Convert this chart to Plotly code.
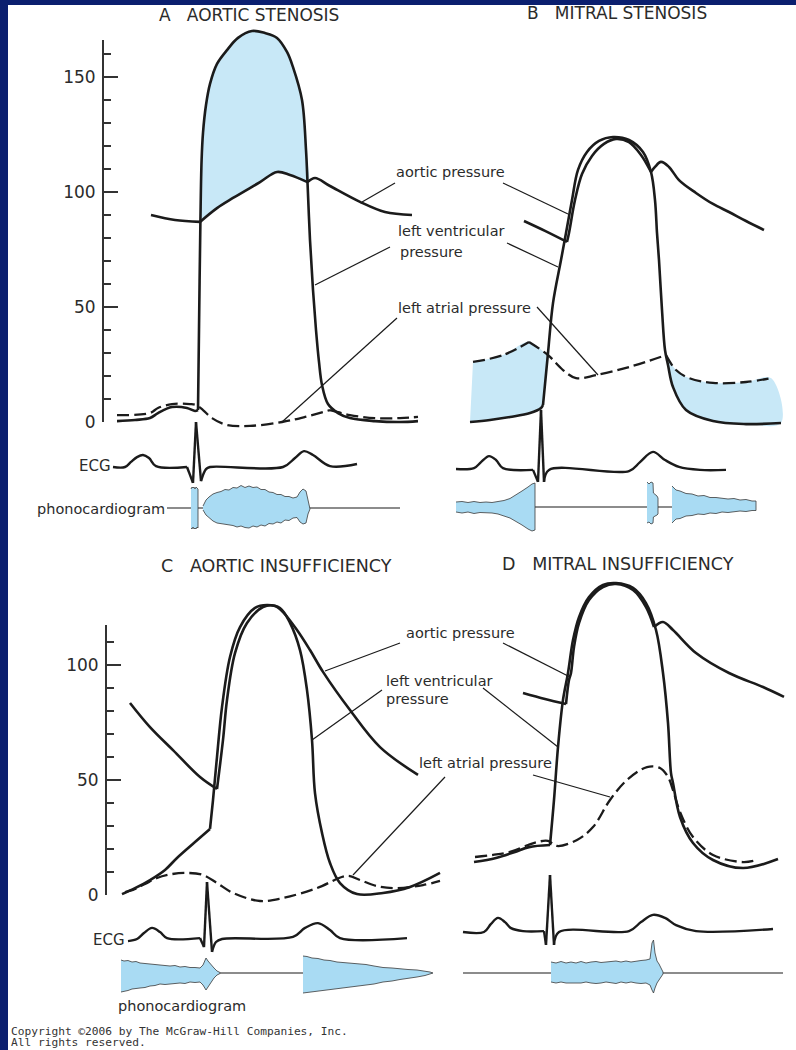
import plotly.graph_objects as go

# ------------------------------------------------------------------
# DATA  (time in ms, pressure in mmHg, ECG in mV, phono in arbitrary units)
# ------------------------------------------------------------------
# ---- A  AORTIC STENOSIS ----
A_LV_t = [32.5, 77.5, 115, 135, 170, 207.5, 227.5, 235, 237.5, 241, 244, 247.5, 255, 265, 282.5, 307.5, 335, 370,
          402.5, 432.5, 457.5, 472.5, 495, 505, 508.75, 515, 522.5, 530, 537.5, 545, 560, 585, 615, 677.5, 740, 785]
A_LV_p = [0.4, 0.9, 1.7, 3.9, 6.5, 6.1, 4.8, 5.2, 40, 87, 113.9, 125.7, 137.8, 147, 155.7, 161.7, 167, 170,
          169.1, 167, 160.9, 154.3, 140, 118.3, 104.3, 79.1, 57.4, 40, 26.1, 16.1, 7.8, 3.9, 1.7, 0.4, 0, 0.4]
A_AO_t = [117.5, 177.5, 240, 282.5, 322.5, 390, 432.5, 465, 508.75, 527.5, 565, 640, 702.5, 770]
A_AO_p = [90, 87.8, 87, 93, 97.4, 104.3, 108.7, 107.4, 104.3, 106.1, 102.6, 95.7, 91.3, 90]
A_LA_t = [32.5, 115, 135, 170, 215, 230, 247.5, 270, 307.5, 365, 445, 502.5, 565, 585, 615, 677.5, 740, 785]
A_LA_p = [3.0, 3.9, 6.1, 7.8, 7.8, 7.4, 5.2, 1.7, -1.3, -1.7, 0, 2.2, 5.2, 4.3, 3.0, 1.7, 1.7, 2.2]
A_ECG_t = [22.5, 52.5, 67.5, 82.5, 97.5, 112.5, 130, 207.5, 222.5, 230, 242.5, 255, 265, 447.5, 477.5, 500, 522.5, 565, 632.5]
A_ECG_mv = [0, 0, 0.17, 0.33, 0.4, 0.3, 0.03, 0, -0.53, 1.5, -0.47, -0.07, 0, 0, 0.3, 0.53, 0.4, 0.03, 0.1]
A_SND_base = [157.5, 740]
A_S1_t = [217.5, 220, 222.5, 225, 227.5, 230, 232.5, 235]
A_S1_up = [1.9, 2.1, 2.0, 2.1, 1.9, 2.1, 2.0, 1.9]
A_S1_lo = [2.0, 2.1, 1.9, 2.1, 2.0, 2.1, 1.9, 2.0]
A_MUR_t = [247.5, 255, 262.5, 272.5, 282.5, 292.5, 302.5, 312.5, 322.5, 332.5, 342.5, 352.5, 362.5, 372.5, 382.5,
           392.5, 402.5, 412.5, 422.5, 432.5, 442.5, 452.5, 462.5, 472.5, 482.5, 490, 497.5, 505, 510, 515]
A_MUR_up = [0.2, 0.8, 1.1, 1.4, 1.55, 1.65, 1.85, 1.8, 2.05, 2.0, 2.25, 2.05, 2.2, 2.05, 2.1,
            1.85, 1.85, 1.6, 1.55, 1.35, 1.35, 1.15, 1.15, 1.0, 1.1, 1.6, 1.9, 1.7, 0.8, 0.1]
A_MUR_lo = [0.2, 0.7, 1.0, 1.3, 1.5, 1.55, 1.65, 1.7, 1.75, 1.9, 1.8, 1.95, 2.0, 1.8, 1.9,
            1.7, 1.8, 1.55, 1.6, 1.4, 1.5, 1.2, 1.25, 1.0, 0.95, 1.4, 1.6, 1.5, 0.6, 0.1]

# ---- B  MITRAL STENOSIS ----
B_LV_t = [50, 100, 150, 200, 227.5, 232.5, 245, 257.5, 277.5, 290, 305, 320, 342.5, 372.5, 407.5, 447.5, 482.5,
          502.5, 512.5, 517.5, 522.5, 530, 537.5, 545, 557.5, 590, 657.5, 740, 827.5]
B_LV_p = [2.6, 3.5, 4.8, 6.5, 8.7, 10, 32.6, 54.3, 73.0, 84.8, 99.1, 112.2, 120, 124.8, 126.5, 125.2, 120,
          111.3, 99.1, 84.8, 73.0, 51.3, 33.9, 27.4, 17.8, 7.8, 3.0, 1.7, 2.2]
B_AO_t = [185, 237.5, 292.5, 297.5, 312.5, 330, 355, 385, 415, 447.5, 477.5, 502.5, 512.5, 527.5, 547.5, 572.5,
          615, 657.5, 697.5, 740, 785]
B_AO_p = [90, 85.7, 80.9, 84.8, 99.1, 110.4, 118.3, 123.5, 125.7, 124.3, 118.7, 111.3, 113.5, 115.7, 113.5, 107.8,
          102.2, 97.4, 93.9, 90, 86.1]
B_LA_t = [57.5, 132.5, 197.5, 245, 282.5, 315, 365, 447.5, 540, 565, 597.5, 657.5, 740, 802.5]
B_LA_p = [28.7, 31.7, 37.4, 31.7, 25.2, 21.7, 23.0, 26.5, 31.7, 25.2, 21.7, 19.6, 20, 21.7]
B_ECG_t = [15, 60, 77.5, 97.5, 115, 132.5, 207.5, 220, 227.5, 235, 247.5, 447.5, 475, 507.5, 537.5, 572.5, 625, 690]
B_ECG_mv = [0, 0.03, 0.23, 0.43, 0.3, 0.03, -0.03, -0.43, 1.97, -0.43, -0.03, -0.07, 0.23, 0.57, 0.3, 0.07, -0.03, -0.03]
B_SND_base = [212.5, 555]
B_PSM_t = [15, 30, 45, 60, 75, 90, 105, 120, 135, 150, 165, 180, 195, 205, 212.5]
B_PSM_up = [0.5, 0.55, 0.45, 0.55, 0.45, 0.5, 0.45, 0.55, 0.65, 0.85, 1.2, 1.6, 2.0, 2.3, 2.4]
B_PSM_lo = [0.5, 0.6, 0.5, 0.65, 0.55, 0.6, 0.6, 0.7, 0.9, 1.1, 1.45, 1.8, 2.2, 2.4, 2.3]
B_OS_t = [492.5, 497.5, 502.5, 507.5, 508.5, 512.5, 517.5, 520]
B_OS_up = [2.5, 2.3, 2.5, 2.4, 1.4, 1.3, 1.1, 0.9]
B_OS_lo = [1.6, 1.5, 1.7, 1.6, 1.0, 0.9, 0.8, 0.7]
B_DM_t = [555, 565, 575, 590, 605, 620, 635, 650, 665, 680, 695, 710, 725, 740, 755, 765]
B_DM_up = [2.1, 1.7, 1.6, 1.35, 1.3, 1.1, 1.15, 0.95, 0.95, 0.85, 0.8, 0.85, 0.7, 0.75, 0.6, 0.6]
B_DM_lo = [1.6, 1.2, 1.15, 0.9, 0.85, 0.7, 0.75, 0.6, 0.65, 0.5, 0.55, 0.45, 0.4, 0.45, 0.35, 0.35]

# ---- C  AORTIC INSUFFICIENCY ----
C_LV_t = [37.5, 70, 107.5, 145, 175, 220, 257.5, 265, 275, 287.5, 307.5, 332.5, 370, 400, 432.5, 457.5, 482.5,
          500, 512.5, 520, 537.5, 557.5, 582.5, 625, 690, 757.5, 832.5]
C_LV_p = [0.4, 3.0, 6.5, 10.9, 16.1, 23.0, 28.7, 41.3, 60, 81.7, 103.5, 116.5, 124.8, 126.1, 124.8, 118.3, 106.5,
          89.1, 67.4, 44.3, 27.0, 13.9, 5.2, 0.4, 0.9, 3.5, 9.6]
C_AO_t = [57.5, 107.5, 165, 232.5, 275, 290, 300, 320, 350, 390, 420, 440, 475, 507.5, 540, 607.5, 682.5, 777.5]
C_AO_p = [83.5, 73.0, 63.0, 51.3, 46.1, 67.4, 84.8, 105.2, 118.3, 125.2, 125.7, 123.0, 115.2, 106.5, 97.0, 80.4, 64.3, 52.2]
C_LA_t = [45, 65, 95, 125, 162.5, 200, 240, 275, 315, 382.5, 440, 525, 600, 632.5, 675, 725, 790, 832.5]
C_LA_p = [1.3, 2.2, 4.8, 7.4, 9.1, 9.6, 8.7, 5.2, 0.9, -2.6, -1.3, 3.0, 8.3, 6.5, 3.9, 3.0, 4.3, 6.1]
C_ECG_t = [52.5, 75, 92.5, 112.5, 132.5, 150, 232.5, 242.5, 250, 262.5, 272.5, 287.5, 465, 495, 527.5, 557.5, 582.5, 750]
C_ECG_mv = [-0.07, 0, 0.2, 0.37, 0.23, 0.03, 0.03, -0.27, 1.9, -0.43, -0.1, 0, 0.07, 0.37, 0.53, 0.3, 0.03, 0.03]
C_SND_base = [282.5, 490]
C_DM1_t = [35, 42.5, 52.5, 62.5, 72.5, 82.5, 95, 107.5, 120, 132.5, 145, 157.5, 170, 182.5, 195, 207.5, 220,
           232.5, 240, 247.5, 252.5, 260, 267.5, 275, 282.5]
C_DM1_up = [1.3, 1.2, 1.25, 1.1, 1.15, 1.0, 0.95, 0.9, 0.85, 0.8, 0.75, 0.7, 0.75, 0.6, 0.65, 0.55, 0.55,
            0.5, 0.8, 1.5, 1.2, 0.8, 0.5, 0.2, 0.05]
C_DM1_lo = [1.9, 1.8, 1.75, 1.6, 1.55, 1.5, 1.45, 1.3, 1.25, 1.1, 1.15, 1.05, 1.05, 1.0, 1.05, 0.9, 0.95,
            0.9, 1.2, 1.7, 1.4, 0.9, 0.5, 0.2, 0.05]
C_DM2_t = [490, 500, 512.5, 527.5, 542.5, 557.5, 575, 592.5, 607.5, 627.5, 647.5, 667.5, 690, 712.5, 732.5,
           752.5, 775, 795, 807.5, 815]
C_DM2_up = [1.7, 1.65, 1.5, 1.45, 1.3, 1.25, 1.1, 1.05, 1.0, 0.9, 0.85, 0.7, 0.55, 0.5, 0.4, 0.35, 0.3, 0.2, 0.1, 0.0]
C_DM2_lo = [2.0, 1.9, 1.85, 1.75, 1.7, 1.6, 1.55, 1.45, 1.4, 1.3, 1.2, 1.1, 0.9, 0.8, 0.65, 0.5, 0.4, 0.25, 0.1, 0.0]

# ---- D  MITRAL INSUFFICIENCY ----
D_LV_t = [60, 115, 162.5, 197.5, 250, 260, 270, 282.5, 295, 307.5, 322.5, 347.5, 382.5, 415, 457.5, 490, 515,
          532.5, 545, 552.5, 557.5, 575, 607.5, 657.5, 732.5, 820]
D_LV_p = [7.8, 9.6, 12.2, 14.3, 15.2, 34.8, 57.8, 78.3, 90, 104.3, 114.3, 123, 128.3, 129.1, 127, 120.4, 108.7,
          90, 68.3, 46.5, 42.2, 27.4, 16.1, 8.7, 5.2, 9.1]
D_AO_t = [182.5, 237.5, 290, 297.5, 302.5, 310, 322.5, 347.5, 382.5, 415, 457.5, 490, 510, 532.5, 557.5, 615, 697.5, 782.5, 835]
D_AO_p = [81.3, 78.7, 76.5, 87, 90, 101.3, 111.7, 121.7, 127.4, 128.7, 126.1, 118.7, 110, 112.2, 108.7, 98.7, 90, 83.9, 79.6]
D_LA_t = [62.5, 107.5, 150, 195, 217.5, 245, 267.5, 317.5, 357.5, 400, 442.5, 492.5, 525, 545, 557.5, 575, 607.5,
          657.5, 732.5, 767.5]
D_LA_p = [10, 10.9, 12.2, 15.2, 16.5, 17, 14.8, 17.4, 23.0, 34.8, 43.5, 49.1, 48.7, 44.8, 39.1, 29.6, 18.7,
          10.9, 7.8, 8.7]
D_ECG_t = [32.5, 85, 102.5, 120, 137.5, 152.5, 182.5, 235, 240, 250, 260, 272.5, 447.5, 477.5, 507.5, 537.5, 565, 615, 807.5]
D_ECG_mv = [0, 0, 0.27, 0.47, 0.33, 0.13, 0.03, 0.03, -0.43, 1.9, -0.43, 0, 0.03, 0.33, 0.57, 0.47, 0.23, 0.03, 0.1]
D_SND_base = [32.5, 832.5]
D_SM_t = [252.5, 265, 277.5, 290, 302.5, 315, 327.5, 340, 352.5, 365, 377.5, 390, 402.5, 415, 427.5, 440, 452.5,
          465, 477.5, 490, 500, 505, 508.75, 512.5, 517.5, 522.5, 527.5, 532.5]
D_SM_up = [1.1, 1.0, 1.15, 1.0, 1.1, 1.0, 1.15, 1.0, 1.1, 1.15, 1.05, 1.1, 1.15, 1.2, 1.1, 1.2, 1.1,
           1.2, 1.25, 1.3, 1.4, 3.0, 3.3, 2.0, 1.2, 0.9, 0.5, 0.1]
D_SM_lo = [0.9, 1.0, 0.9, 1.0, 0.95, 1.0, 1.0, 0.9, 1.0, 1.05, 1.0, 0.9, 1.0, 1.05, 0.9, 1.0, 0.9,
           1.0, 1.05, 1.0, 1.2, 1.7, 2.0, 1.5, 1.0, 0.7, 0.4, 0.1]

# ------------------------------------------------------------------
# STYLE / LAYOUT
# ------------------------------------------------------------------
W, H = 796, 1050
NAVY = "#0b1f6f"
INK = "#1b1b1b"
AXC = "#333333"
TXT = "#2b2b2b"
FILL_P = "#c8e8f7"
FILL_S = "#a9dbf3"
FONT = "DejaVu Sans"
MS_PER_PX, PX_PER_MMHG, PX_PER_MV, PX_PER_AU = 2.5, 2.3, 30.0, 10.0

GEOM = {
    "A": dict(x="x", yp="y", ye="y3", ys="y4", xl=104, xr=430, x0=104, p0=422, pt=25, pb=432,
              e0=467, et=412, eb=492, s0=508, st=478, sb=540),
    "B": dict(x="x2", yp="y5", ye="y6", ys="y7", xl=440, xr=792, x0=450, p0=428, pt=25, pb=436,
              e0=469, et=400, eb=492, s0=507, st=474, sb=540),
    "C": dict(x="x3", yp="y8", ye="y10", ys="y11", xl=107, xr=448, x0=107, p0=895, pt=590, pb=906,
              e0=939, et=872, eb=962, s0=973, st=945, sb=1000),
    "D": dict(x="x4", yp="y12", ye="y13", ys="y14", xl=455, xr=792, x0=450, p0=880, pt=570, pb=885,
              e0=932, et=862, eb=955, s0=973, st=930, sb=1000),
}
RULERS = {"A": ("y2", 40), "C": ("y9", 625)}


def lkey(a):
    return a[0] + "axis" + a[1:]


def ylay(top, bot, zero, scale, anchor):
    return dict(domain=[1 - bot / H, 1 - top / H], range=[(zero - bot) / scale, (zero - top) / scale],
                anchor=anchor, visible=False, fixedrange=True, automargin=False)


fig = go.Figure()
lay = {}
for k, g in GEOM.items():
    lay[lkey(g["x"])] = dict(domain=[g["xl"] / W, g["xr"] / W],
                             range=[(g["xl"] - g["x0"]) * MS_PER_PX, (g["xr"] - g["x0"]) * MS_PER_PX],
                             anchor=g["yp"], visible=False, fixedrange=True, automargin=False)
    lay[lkey(g["yp"])] = ylay(g["pt"], g["pb"], g["p0"], PX_PER_MMHG, g["x"])
    lay[lkey(g["ye"])] = ylay(g["et"], g["eb"], g["e0"], PX_PER_MV, g["x"])
    lay[lkey(g["ys"])] = ylay(g["st"], g["sb"], g["s0"], PX_PER_AU, g["x"])
for k, (ya, top) in RULERS.items():
    g = GEOM[k]
    d = ylay(top, g["p0"], g["p0"], PX_PER_MMHG, g["x"])
    d.update(visible=True, range=[-0.05, (g["p0"] - top) / PX_PER_MMHG], showline=True, linecolor=AXC,
             linewidth=2, ticks="inside", ticklen=14, tickwidth=2, tickcolor=AXC, tickmode="linear",
             tick0=0, dtick=50, showticklabels=True, tickfont=dict(family=FONT, size=17, color=TXT),
             ticklabelstandoff=3, showgrid=False, zeroline=False,
             minor=dict(ticks="inside", ticklen=7, tickwidth=1.6, tickcolor=AXC, tick0=0, dtick=10))
    lay[lkey(ya)] = d
    fig.add_trace(go.Scatter(x=[300], y=[50], xaxis=g["x"], yaxis=ya, mode="markers",
                             marker=dict(opacity=0), hoverinfo="skip", showlegend=False))


def curve(t, v, xa, ya, corners=(), dash=None, width=2.6, color=INK):
    idx = [0] + [t.index(c) for c in corners] + [len(t) - 1]
    for a, b in zip(idx[:-1], idx[1:]):
        fig.add_trace(go.Scatter(x=t[a:b + 1], y=v[a:b + 1], xaxis=xa, yaxis=ya, mode="lines",
                                 line=dict(color=color, width=width, dash=dash, shape="spline", smoothing=1.0),
                                 hoverinfo="skip", showlegend=False))


def pick(t, v, lo, hi):
    pts = [(a, b) for a, b in zip(t, v) if lo <= a <= hi]
    return [p[0] for p in pts], [p[1] for p in pts]


def pfill(x, y, xa, ya):
    fig.add_trace(go.Scatter(x=x, y=y, xaxis=xa, yaxis=ya, fill="toself", fillcolor=FILL_P, mode="lines",
                             line=dict(width=0, shape="spline"), hoverinfo="skip", showlegend=False))


def sound(t, up, lo, xa, ya):
    xs = list(t) + list(t)[::-1]
    ys = list(up) + [-v for v in lo][::-1]
    fig.add_trace(go.Scatter(x=xs, y=ys, xaxis=xa, yaxis=ya, fill="toself", fillcolor=FILL_S, mode="lines",
                             line=dict(color="#3a3a3a", width=0.8), hoverinfo="skip", showlegend=False))


def base(tr, xa, ya):
    fig.add_trace(go.Scatter(x=tr, y=[0, 0], xaxis=xa, yaxis=ya, mode="lines",
                             line=dict(color=INK, width=1.2), hoverinfo="skip", showlegend=False))


DASH = "12px,5px"

# ---- A ----
g = GEOM["A"]
lt, lv = pick(A_LV_t, A_LV_p, 241, 508.75)
at, av = pick(A_AO_t, A_AO_p, 240, 508)
pfill(lt + at[::-1], lv + av[::-1], g["x"], g["yp"])
base(A_SND_base, g["x"], g["ys"])
sound(A_S1_t, A_S1_up, A_S1_lo, g["x"], g["ys"])
sound(A_MUR_t, A_MUR_up, A_MUR_lo, g["x"], g["ys"])
curve(A_LA_t, A_LA_p, g["x"], g["yp"], corners=[565], dash=DASH, width=2.3)
curve(A_LV_t, A_LV_p, g["x"], g["yp"], corners=[235])
curve(A_AO_t, A_AO_p, g["x"], g["yp"], corners=[240, 508.75])
curve(A_ECG_t, A_ECG_mv, g["x"], g["ye"], corners=[207.5, 222.5, 230, 242.5], width=2.4)

# ---- B ----
g = GEOM["B"]
at, av = pick(B_LA_t, B_LA_p, 0, 245)
lt, lv = pick(B_LV_t, B_LV_p, 0, 245)
pfill(at + lt[::-1], av + lv[::-1], g["x"], g["yp"])
at, av = pick(B_LA_t, B_LA_p, 540, 900)
lt, lv = pick(B_LV_t, B_LV_p, 537.5, 900)
pfill(at + lt[::-1], av + lv[::-1], g["x"], g["yp"])
base(B_SND_base, g["x"], g["ys"])
sound(B_PSM_t, B_PSM_up, B_PSM_lo, g["x"], g["ys"])
sound(B_OS_t, B_OS_up, B_OS_lo, g["x"], g["ys"])
sound(B_DM_t, B_DM_up, B_DM_lo, g["x"], g["ys"])
curve(B_LA_t, B_LA_p, g["x"], g["yp"], corners=[197.5, 540], dash=DASH, width=2.3)
curve(B_LV_t, B_LV_p, g["x"], g["yp"], corners=[232.5])
curve(B_AO_t, B_AO_p, g["x"], g["yp"], corners=[292.5, 502.5])
curve(B_ECG_t, B_ECG_mv, g["x"], g["ye"], corners=[207.5, 220, 227.5, 235], width=2.4)

# ---- C ----
g = GEOM["C"]
base(C_SND_base, g["x"], g["ys"])
sound(C_DM1_t, C_DM1_up, C_DM1_lo, g["x"], g["ys"])
sound(C_DM2_t, C_DM2_up, C_DM2_lo, g["x"], g["ys"])
curve(C_LA_t, C_LA_p, g["x"], g["yp"], dash=DASH, width=2.3)
curve(C_LV_t, C_LV_p, g["x"], g["yp"], corners=[257.5])
curve(C_AO_t, C_AO_p, g["x"], g["yp"], corners=[275])
curve(C_ECG_t, C_ECG_mv, g["x"], g["ye"], corners=[232.5, 242.5, 250, 262.5], width=2.4)

# ---- D ----
g = GEOM["D"]
base(D_SND_base, g["x"], g["ys"])
sound(D_SM_t, D_SM_up, D_SM_lo, g["x"], g["ys"])
curve(D_LA_t, D_LA_p, g["x"], g["yp"], dash=DASH, width=2.3)
curve(D_LV_t, D_LV_p, g["x"], g["yp"], corners=[250])
curve(D_AO_t, D_AO_p, g["x"], g["yp"], corners=[290, 510])
curve(D_ECG_t, D_ECG_mv, g["x"], g["ye"], corners=[235, 240, 250, 260], width=2.4)


# ---- text & leader lines (paper positions, pixels) ----
def label(text, x, y, size=14.5, xanchor="left", family=FONT, color=TXT):
    fig.add_annotation(text=text, x=x / W, y=1 - y / H, xref="paper", yref="paper", xanchor=xanchor,
                       yanchor="middle", showarrow=False, borderpad=0,
                       font=dict(family=family, size=size, color=color))


def leader(x0, y0, x1, y1):
    fig.add_shape(type="line", xref="paper", yref="paper", x0=x0 / W, y0=1 - y0 / H, x1=x1 / W, y1=1 - y1 / H,
                  line=dict(color=INK, width=1.2))


NB = "\u00a0\u00a0\u00a0"
label("A" + NB + "AORTIC STENOSIS", 249, 15, size=17, xanchor="center")
label("B" + NB + "MITRAL STENOSIS", 617, 13, size=17, xanchor="center")
label("C" + NB + "AORTIC INSUFFICIENCY", 276, 566, size=17.5, xanchor="center")
label("D" + NB + "MITRAL INSUFFICIENCY", 618, 564, size=17.5, xanchor="center")

label("aortic pressure", 395, 172)
label("left ventricular", 397, 231)
label("pressure", 399, 252)
label("left atrial pressure", 397, 308)
for seg in [(395, 183, 362, 202), (503, 183, 568, 214), (390, 247, 315, 285), (507, 243, 558, 267),
            (397, 318, 282, 422), (537, 307, 598, 375)]:
    leader(*seg)

label("aortic pressure", 405, 633)
label("left ventricular", 385, 681)
label("pressure", 385, 699)
label("left atrial pressure", 418, 763)
for seg in [(400, 643, 325, 671), (503, 643, 570, 677), (382, 690, 312, 740), (483, 688, 558, 747),
            (445, 777, 353, 875), (533, 775, 610, 797)]:
    leader(*seg)

label("ECG", 112, 466, size=15, xanchor="right")
label("phonocardiogram", 166, 509, size=14.5, xanchor="right")
label("ECG", 126, 940, size=15, xanchor="right")
label("phonocardiogram", 182, 1006, size=14.5, xanchor="center")

label("Copyright \u00a92006 by The McGraw-Hill Companies, Inc.", 10, 1031, size=11.2,
      family="DejaVu Sans Mono", color="#333333")
label("All rights reserved.", 10, 1042, size=11.2, family="DejaVu Sans Mono", color="#333333")

fig.add_shape(type="rect", xref="paper", yref="paper", x0=8 / W, x1=1, y0=0, y1=1 - 5 / H,
              fillcolor="white", line=dict(width=0), layer="below")

fig.update_layout(template="none", width=W, height=H, autosize=False,
                  margin=dict(l=0, r=0, t=0, b=0, pad=0, autoexpand=False), paper_bgcolor=NAVY,
                  plot_bgcolor="rgba(0,0,0,0)", showlegend=False, **lay)

PAGE_FIX = ("var s=document.documentElement.style;s.margin='0';s.padding='0';s.overflow='hidden';"
            "var b=document.body.style;b.margin='0';b.padding='0';b.overflow='hidden';"
            "b.width='796px';b.height='1050px';b.background='white';")
fig.write_html("out.html", config={"displayModeBar": False}, post_script=PAGE_FIX)
